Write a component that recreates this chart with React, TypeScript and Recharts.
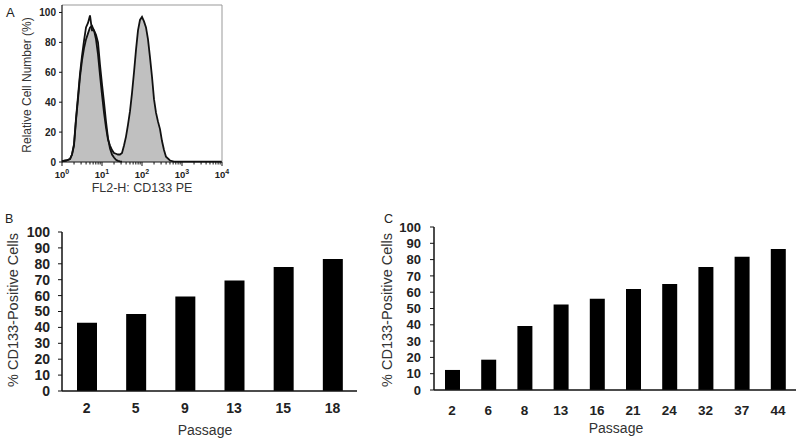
import React from 'react';
import { ComposedChart, Area, Line, BarChart, Bar, XAxis, YAxis, ReferenceLine } from 'recharts';

const FONT = '"Liberation Sans", Arial, Helvetica, sans-serif';

// Panel A: flow cytometry histogram, x = decade exponent of FL2-H
const logFluor = [
  0, 0.1, 0.2, 0.25, 0.3, 0.35, 0.4, 0.45, 0.5, 0.55, 0.6, 0.65, 0.7, 0.75, 0.8, 0.85, 0.9, 0.95,
  1.0, 1.05, 1.1, 1.15, 1.2, 1.25, 1.3, 1.35, 1.4, 1.45, 1.5, 1.55, 1.6, 1.65, 1.7, 1.75, 1.8,
  1.85, 1.9, 1.95, 2.0, 2.05, 2.1, 2.15, 2.2, 2.25, 2.3, 2.35, 2.4, 2.45, 2.5, 2.55, 2.6, 2.7,
  2.8, 3.0, 3.5, 4.0,
];
const cd133Counts = [
  0.5, 1, 2, 5, 11, 28, 42, 57, 68, 76, 82, 86, 90, 91, 88, 82, 72, 58,
  45, 33, 23, 15, 11, 8, 6, 5.5, 5, 5, 6, 11, 17, 25, 34, 46, 60,
  75, 88, 95, 97, 94, 90, 82, 70, 57, 42, 33, 27, 22, 14, 8, 3.5, 1,
  0.3, 0.2, 0.2, 0.2,
];
const isotypeCounts = [
  0.5, 1, 2, 5, 12, 29, 44, 59, 71, 81, 90, 93, 98, 88, 88, 85, 80, 65,
  52, 40, 27, 16, 9, 5, 3, 1.5, 0.8, 0.4, 0.2, null, null, null, null, null, null,
  null, null, null, null, null, null, null, null, null, null, null, null, null, null, null, null, null,
  null, null, null, null,
];
const decadeTicks = [0, 1, 2, 3, 4];
const countTicks = [0, 20, 40, 60, 80, 100];

// Panel B
const passagesB = ['2', '5', '9', '13', '15', '18'];
const positiveB = [43, 48.5, 59.5, 69.5, 78, 83];

// Panel C
const passagesC = ['2', '6', '8', '13', '16', '21', '24', '32', '37', '44'];
const positiveC = [12.3, 18.6, 39.3, 52.4, 56, 62, 65, 75.5, 81.8, 86.5];

const percentTicks = [0, 10, 20, 30, 40, 50, 60, 70, 80, 90, 100];

const histData = logFluor.map((x, i) => ({ x, cd133: cd133Counts[i], iso: isotypeCounts[i] }));
const barDataB = passagesB.map((p, i) => ({ passage: p, value: positiveB[i] }));
const barDataC = passagesC.map((p, i) => ({ passage: p, value: positiveC[i] }));

// major + minor ticks of the log axis
const logTicks: number[] = [];
decadeTicks.forEach((d) => {
  logTicks.push(d);
  if (d < 4) for (let k = 2; k < 10; k++) logTicks.push(d + Math.log10(k));
});

const DecadeTick = (props: any) => {
  const { x, y, payload } = props;
  const v = payload.value;
  const major = Math.abs(v - Math.round(v)) < 1e-6;
  return (
    <g>
      <line x1={x} x2={x} y1={y} y2={y + (major ? 4 : 2.5)} stroke="#111" strokeWidth={1} />
      {major && (
        <text x={x} y={y + 16} textAnchor="middle" fontFamily={FONT} fontWeight="bold" fontSize={9.5} fill="#222">
          10
          <tspan dy={-4} fontSize={7}>
            {Math.round(v)}
          </tspan>
        </text>
      )}
    </g>
  );
};

export default function App() {
  return (
    <div style={{ position: 'absolute', left: 0, top: 0, width: 800, height: 447, background: '#fff', overflow: 'hidden' }}>
      {/* A */}
      <div style={{ position: 'absolute', left: 0, top: 0 }}>
        <ComposedChart width={240} height={200} data={histData} margin={{ top: 5, right: 18, bottom: 0, left: 0 }}>
          <XAxis
            type="number"
            dataKey="x"
            domain={[0, 4]}
            ticks={logTicks}
            interval={0}
            tickSize={0}
            tickMargin={0}
            tickLine={false}
            tick={DecadeTick}
            height={38}
            axisLine={{ stroke: '#111', strokeWidth: 1.2 }}
          />
          <YAxis
            type="number"
            domain={[0, 105]}
            ticks={countTicks}
            interval={0}
            width={62}
            tickSize={3}
            tickMargin={3}
            tickLine={{ stroke: '#111' }}
            axisLine={{ stroke: '#111', strokeWidth: 1.2 }}
            tick={{ fontFamily: FONT, fontSize: 10, fontWeight: 'bold', fill: '#222' }}
          />
          <ReferenceLine y={105} stroke="#999" strokeWidth={1} />
          <ReferenceLine x={4} stroke="#999" strokeWidth={1} />
          <Area
            type="linear"
            dataKey="cd133"
            fill="#c0c0c0"
            fillOpacity={1}
            stroke="#111"
            strokeWidth={1.8}
            dot={false}
            activeDot={false}
            isAnimationActive={false}
          />
          <Line
            type="linear"
            dataKey="iso"
            stroke="#111"
            strokeWidth={1.8}
            dot={false}
            activeDot={false}
            isAnimationActive={false}
          />
        </ComposedChart>
      </div>

      {/* B */}
      <div style={{ position: 'absolute', left: 0, top: 220 }}>
        <BarChart width={360} height={227} data={barDataB} margin={{ top: 12, right: 3, bottom: 0, left: 0 }}>
          <XAxis
            dataKey="passage"
            height={56}
            tickLine={false}
            tickSize={0}
            tickMargin={12}
            interval={0}
            axisLine={{ stroke: '#111', strokeWidth: 1.5 }}
            tick={{ fontFamily: FONT, fontSize: 14, fontWeight: 'bold', fill: '#222' }}
          />
          <YAxis
            domain={[0, 100]}
            ticks={percentTicks}
            interval={0}
            width={62}
            tickSize={4}
            tickMargin={8}
            tickLine={{ stroke: '#111' }}
            axisLine={{ stroke: '#111', strokeWidth: 1.5 }}
            tick={{ fontFamily: FONT, fontSize: 14, fontWeight: 'bold', fill: '#222' }}
          />
          <Bar dataKey="value" fill="#000" barSize={20} isAnimationActive={false} />
        </BarChart>
      </div>

      {/* C */}
      <div style={{ position: 'absolute', left: 370, top: 215 }}>
        <BarChart width={430} height={232} data={barDataC} margin={{ top: 12, right: 4, bottom: 0, left: 0 }}>
          <XAxis
            dataKey="passage"
            height={57}
            tickLine={false}
            tickSize={0}
            tickMargin={15}
            interval={0}
            axisLine={{ stroke: '#111', strokeWidth: 1.5 }}
            tick={{ fontFamily: FONT, fontSize: 13.5, fontWeight: 'bold', fill: '#222' }}
          />
          <YAxis
            domain={[0, 100]}
            ticks={percentTicks}
            interval={0}
            width={64}
            tickSize={4}
            tickMargin={9}
            tickLine={{ stroke: '#111' }}
            axisLine={{ stroke: '#111', strokeWidth: 1.5 }}
            tick={{ fontFamily: FONT, fontSize: 13, fontWeight: 'bold', fill: '#222' }}
          />
          <Bar dataKey="value" fill="#000" barSize={15} isAnimationActive={false} />
        </BarChart>
      </div>

      {/* titles and panel letters */}
      <svg width={800} height={447} style={{ position: 'absolute', left: 0, top: 0, pointerEvents: 'none' }}>
        <g fontFamily={FONT} fill="#222">
          <text x={6} y={17} fontSize={13}>A</text>
          <text x={5} y={223} fontSize={12.5}>B</text>
          <text x={384} y={223} fontSize={12.5}>C</text>
          <text transform="translate(27,85) rotate(-90)" textAnchor="middle" dominantBaseline="central" fontSize={12} fill="#333">
            Relative Cell Number (%)
          </text>
          <text x={142} y={192} textAnchor="middle" fontSize={12.5} fill="#333">FL2-H: CD133 PE</text>
          <text transform="translate(13,310) rotate(-90)" textAnchor="middle" dominantBaseline="central" fontSize={14.5} fill="#333">
            % CD133-Positive Cells
          </text>
          <text x={205} y={435} textAnchor="middle" fontSize={14} fill="#333">Passage</text>
          <text transform="translate(387,310) rotate(-90)" textAnchor="middle" dominantBaseline="central" fontSize={14.5} fill="#333">
            % CD133-Positive Cells
          </text>
          <text x={616} y={433} textAnchor="middle" fontSize={14} fill="#333">Passage</text>
        </g>
      </svg>
    </div>
  );
}
